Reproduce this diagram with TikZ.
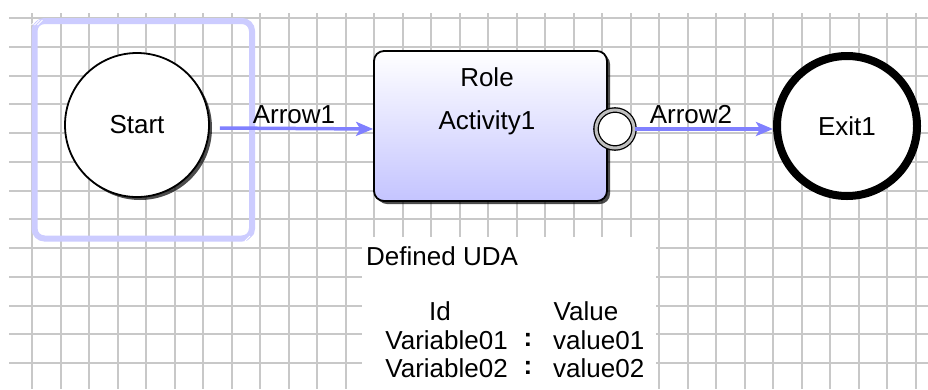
\documentclass[tikz,border=0pt]{standalone}
\usepackage{fontspec}
\setmainfont{Liberation Sans}
\usetikzlibrary{arrows.meta,shadows}
\definecolor{gridc}{RGB}{200,200,200}
\definecolor{selc}{RGB}{204,204,255}
\definecolor{arrc}{RGB}{128,128,255}
\definecolor{lavc}{RGB}{196,196,255}
\tikzset{
  txt/.style={font=\fontsize{26}{30}\selectfont, inner sep=0pt, text=black},
  gridline/.style={draw=gridc, line width=2pt},
  shad/.style={drop shadow={shadow xshift=3pt, shadow yshift=-3pt, opacity=0.7, fill=black}},
  startnode/.style={circle, draw=black, line width=1.8pt, fill=white, minimum size=144pt, inner sep=0pt, shad, txt},
  exitnode/.style={circle, draw=black, line width=8pt, fill=white, minimum size=140pt, inner sep=0pt, txt},
  actnode/.style={rectangle, rounded corners=10pt, draw=black, line width=1.8pt, top color=white, bottom color=lavc, minimum width=233pt, minimum height=150pt, shad},
  portnode/.style={circle, draw=black, line width=1.3pt, double=gray!50, double distance=3pt, fill=white, minimum size=38pt, inner sep=0pt},
  flow/.style={draw=arrc, line width=3.5pt, -{Stealth[length=17pt, width=14pt, inset=4pt]}},
}
\begin{document}
\begin{tikzpicture}[x=1pt, y=-1pt]
\useasboundingbox (0,0) rectangle (928,389);
\fill[white] (0,0) rectangle (928,389);
% grid
\foreach \k in {0,...,12} \draw[gridline] (9,{18+28.75*\k}) -- (928,{18+28.75*\k});
\foreach \k in {0,...,31} \draw[gridline] ({32+28.5*\k},13) -- ({32+28.5*\k},389);
% UDA panel background
\fill[white] (362,237) rectangle (656,389);
% selection frame
\draw[selc, line width=6pt, rounded corners=10pt] (34.5,21) rectangle (252,238.5);
\foreach \d in {0,3,6} {
  \draw[white, line width=0.8pt] ({31.5+\d},{25}) -- ({36.5+\d},{20});
  \draw[white, line width=0.8pt] ({245+\d},{241}) -- ({250+\d},{236});
}
% nodes
\node[startnode] (start) at (137,125) {Start};
\node[actnode] (act) at (490.5,126) {};
\node[txt] (role) at (487,77) {Role};
\node[txt] (actname) at (487,123) {Activity1};
\node[portnode] (port) at (615,129) {};
\node[exitnode] (exit) at (847,126) {Exit1};
% connectors
\draw[flow] ([yshift=-3pt]start.east) ++(10,0) -- ([yshift=-3pt]act.west);
\draw[flow] (port.east) -- (port.east -| exit.west);
\node[txt] (lab1) at (294,115) {Arrow1};
\node[txt] (lab2) at (691,115) {Arrow2};
% UDA text
\node[txt, anchor=west] (uda) at (366,256) {Defined UDA};
\node[txt] (idh) at (440,311) {Id};
\node[txt] (valh) at (586,311) {Value};
\node[txt, anchor=east] (v1) at (508,340) {Variable01};
\node[txt] (c1) at (528,340) {\textbf{:}};
\node[txt, anchor=west] (val1) at (553,340) {value01};
\node[txt, anchor=east] (v2) at (508,368) {Variable02};
\node[txt] (c2) at (528,368) {\textbf{:}};
\node[txt, anchor=west] (val2) at (553,368) {value02};
\end{tikzpicture}
\end{document}
